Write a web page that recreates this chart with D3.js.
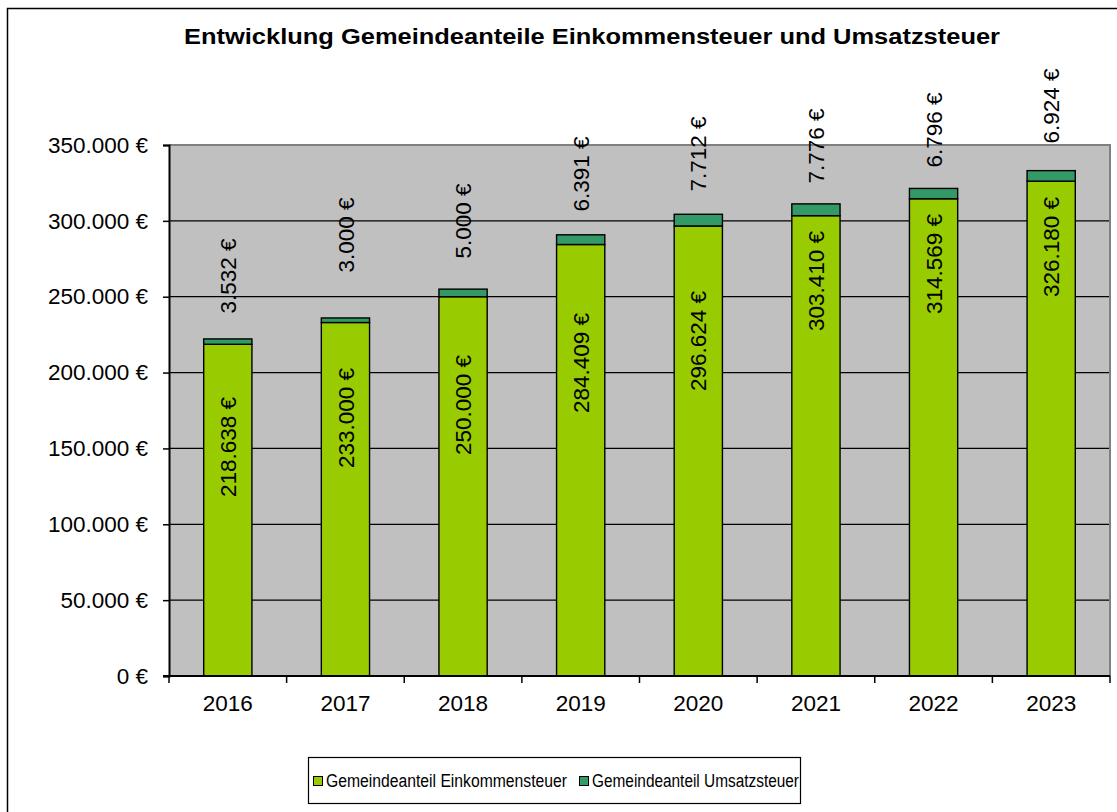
<!DOCTYPE html>
<html lang="de">
<head>
<meta charset="utf-8">
<script src="https://cdn.jsdelivr.net/npm/d3@7"></script>
<style>
  html, body { margin: 0; padding: 0; background: #fff; }
  svg { display: block; font-family: Arial, "Liberation Sans", sans-serif; }
</style>
</head>
<body>
<svg id="chart" width="1117" height="812"></svg>
<script>
// Werte
const years = ['2016', '2017', '2018', '2019', '2020', '2021', '2022', '2023'];
const einkommensteuer = [218638, 233000, 250000, 284409, 296624, 303410, 314569, 326180];
const umsatzsteuer = [3532, 3000, 5000, 6391, 7712, 7776, 6796, 6924];
const yTicks = [0, 50000, 100000, 150000, 200000, 250000, 300000, 350000];
const seriesNames = ['Gemeindeanteil Einkommensteuer', 'Gemeindeanteil Umsatzsteuer'];

// Lage der (verschobenen) Datenbeschriftungen, in € auf der Werteachse
const labelAtEink = [151000, 170100, 178600, 206300, 220800, 260400, 271600, 282800];
const labelAtUms = [263700, 290700, 299900, 330900, 344100, 349400, 359900, 375700];

const COLORS = ['#99cc00', '#339966'];

const de = d3.formatLocale({ decimal: ',', thousands: '.', grouping: [3], currency: ['', ' €'] });
const fmt = v => de.format(',.0f')(v) + ' €';

const svg = d3.select('#chart');
const plot = { left: 169, right: 1110, top: 145, bottom: 676 };

// äußerer Rahmen (rechts/unten außerhalb des Bildes)
svg.append('rect')
    .attr('x', 7.5).attr('y', 8.5)
    .attr('width', 1200).attr('height', 900)
    .attr('fill', 'none').attr('stroke', '#000').attr('stroke-width', 1.5);

const x = d3.scaleBand()
    .domain(years)
    .range([plot.left, plot.right])
    .paddingInner(0.59)
    .paddingOuter(0.295);

const y = d3.scaleLinear()
    .domain([0, 350000])
    .range([plot.bottom, plot.top]);

// Zeichenfläche
svg.append('rect')
    .attr('x', plot.left).attr('y', plot.top)
    .attr('width', plot.right - plot.left).attr('height', plot.bottom - plot.top)
    .attr('fill', '#c0c0c0');

// Gitternetz
svg.append('g')
    .selectAll('line')
    .data(yTicks.filter(t => t > 0 && t < 350000))
    .join('line')
    .attr('x1', plot.left).attr('x2', plot.right)
    .attr('y1', d => y(d)).attr('y2', d => y(d))
    .attr('stroke', '#000').attr('stroke-width', 1.2);

// Rahmen oben/rechts grau
svg.append('path')
    .attr('d', `M${plot.left},${plot.top}H${plot.right}V${plot.bottom}`)
    .attr('fill', 'none').attr('stroke', '#808080').attr('stroke-width', 2);

const rows = years.map((yr, i) => ({ year: yr, eink: einkommensteuer[i], ums: umsatzsteuer[i] }));
const stacked = d3.stack().keys(['eink', 'ums'])(rows);

svg.append('g')
    .selectAll('g')
    .data(stacked)
    .join('g')
    .attr('fill', (d, i) => COLORS[i])
    .selectAll('rect')
    .data(d => d)
    .join('rect')
    .attr('x', d => x(d.data.year))
    .attr('width', x.bandwidth())
    .attr('y', d => y(d[1]))
    .attr('height', d => y(d[0]) - y(d[1]))
    .attr('stroke', '#000')
    .attr('stroke-width', 1.4);

// Achsen
const yAxis = svg.append('g')
    .attr('transform', `translate(${plot.left},0)`)
    .call(d3.axisLeft(y).tickValues(yTicks).tickSize(6).tickPadding(15).tickFormat(fmt));
yAxis.select('.domain').attr('stroke-width', 2);
yAxis.selectAll('.tick line').attr('stroke-width', 1.5);
yAxis.selectAll('text').attr('font-size', 22.5).attr('fill', '#000');

const xAxis = svg.append('g')
    .attr('transform', `translate(0,${plot.bottom})`)
    .call(d3.axisBottom(x).tickSize(0).tickPadding(19));
xAxis.select('.domain').remove();
xAxis.selectAll('text').attr('font-size', 22.5).attr('fill', '#000');

svg.append('line')
    .attr('x1', plot.left - 6).attr('x2', plot.right)
    .attr('y1', plot.bottom).attr('y2', plot.bottom)
    .attr('stroke', '#000').attr('stroke-width', 2);

// Teilstriche zwischen den Kategorien
const step = x.step();
svg.append('g')
    .selectAll('line')
    .data(d3.range(years.length + 1))
    .join('line')
    .attr('x1', i => plot.left + i * step).attr('x2', i => plot.left + i * step)
    .attr('y1', plot.bottom).attr('y2', plot.bottom + 7)
    .attr('stroke', '#000').attr('stroke-width', 1.5);

// Datenbeschriftungen
function addLabels(values, anchors) {
    svg.append('g')
        .selectAll('text')
        .data(years)
        .join('text')
        .attr('transform', (d, i) => `translate(${x(d) + x.bandwidth() / 2},${y(anchors[i])}) rotate(-90)`)
        .attr('text-anchor', 'middle')
        .attr('dy', '0.36em')
        .attr('font-size', 22.5)
        .attr('fill', '#000')
        .text((d, i) => fmt(values[i]));
}
addLabels(einkommensteuer, labelAtEink);
addLabels(umsatzsteuer, labelAtUms);

// Titel
svg.append('text')
    .attr('x', 184).attr('y', 44)
    .attr('font-size', 22.5)
    .attr('font-weight', 'bold')
    .attr('textLength', 816)
    .attr('lengthAdjust', 'spacingAndGlyphs')
    .text('Entwicklung Gemeindeanteile Einkommensteuer und Umsatzsteuer');

// Legende
const legend = svg.append('g');
legend.append('rect')
    .attr('x', 308.5).attr('y', 757.5)
    .attr('width', 492).attr('height', 46)
    .attr('fill', '#fff').attr('stroke', '#000').attr('stroke-width', 1.2);

const legendX = [313, 579];
const legendW = [241, 207];
seriesNames.forEach((name, i) => {
    legend.append('rect')
        .attr('x', legendX[i] + 0.5).attr('y', 776.5)
        .attr('width', 9).attr('height', 9)
        .attr('fill', COLORS[i]).attr('stroke', '#000').attr('stroke-width', 1);
    legend.append('text')
        .attr('x', legendX[i] + 13).attr('y', 786.5)
        .attr('font-size', 18)
        .attr('textLength', legendW[i])
        .attr('lengthAdjust', 'spacingAndGlyphs')
        .attr('fill', '#000')
        .text(name);
});
</script>
</body>
</html>
